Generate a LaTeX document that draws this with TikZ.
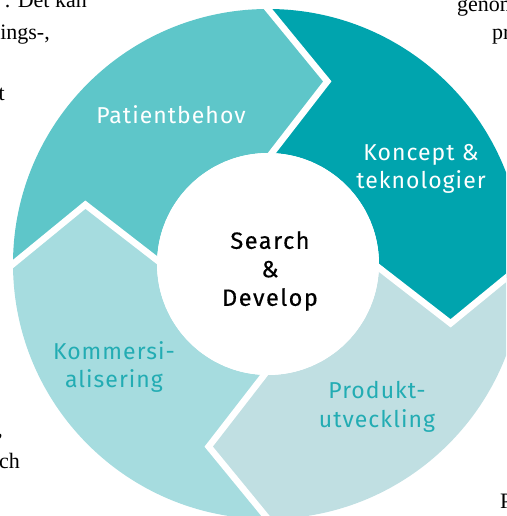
\documentclass[tikz,border=0pt]{standalone}
\usepackage{fontspec}
\setmainfont{Liberation Serif}
\newfontfamily\dinfont[LetterSpace=4.5]{Fira Sans}
\newfontfamily\dinfontc[LetterSpace=6.5, FakeBold=0.4]{Fira Sans}
\usetikzlibrary{calc}

\definecolor{patientcol}{HTML}{5EC6C9}
\definecolor{konceptcol}{HTML}{00A4AE}
\definecolor{produktcol}{HTML}{C0DFE2}
\definecolor{kommersicol}{HTML}{A6DCDF}
\definecolor{labelteal}{HTML}{22ACB3}

\tikzset{
	segment label/.style={font=\dinfont\fontsize{23}{28.5}\selectfont, align=center, inner sep=0pt},
	center label/.style={font=\dinfontc\fontsize{23.5}{28.5}\selectfont, align=center, inner sep=0pt},
	bg text/.style={font=\fontsize{22}{31}\selectfont, inner sep=0pt},
}

\begin{document}
\begin{tikzpicture}[x=1pt, y=1pt]
	% draw frame
	\path[use as bounding box, clip] (-268,-252) rectangle (238,264);

	% draw ring segments
	\def\Rout{255}
	\def\Rin{111}
	\def\Rtip{192}
	\foreach \a/\col in {180/patientcol, 90/konceptcol, 0/produktcol, -90/kommersicol} {
		\fill[\col] ({\a}:\Rout) arc[start angle=\a, end angle=\a-90, radius=\Rout]
			-- ({\a-108}:\Rtip) -- ({\a-90}:\Rin)
			arc[start angle=\a-90, end angle=\a, radius=\Rin]
			-- ({\a-18}:\Rtip) -- cycle;
	}

	% draw white gaps between the segments
	\foreach \a in {0,90,180,270} {
		\draw[white, line width=6.5pt] ($({\a-18}:\Rtip)!1.2!({\a}:\Rout)$)
			-- ({\a-18}:\Rtip) -- ({\a}:{\Rin-5});
	}

	% draw center disc
	\fill[white] (0,0) circle[radius=\Rin];

	% draw labels
	\node[center label] (center) at (2,-7) {Search\\\&\\Develop};
	\node[segment label, white, anchor=base] (patient) at (-97,140) {Patientbehov};
	\node[segment label, white] (koncept) at (153,95) {Koncept \&\\teknologier};
	\node[segment label, labelteal] (produkt) at (109,-143) {Produkt-\\utveckling};
	\node[segment label, labelteal] (kommersi) at (-154,-103) {Kommersi-\\alisering};

	% draw surrounding body text
	\node[bg text, anchor=base east] (txta) at (-181,256) {. Det kan};
	\node[bg text, anchor=base east] (txtb) at (-218,224) {ings-,};
	\node[bg text, anchor=base east] (txtc) at (-263,163) {t};
	\node[bg text, anchor=base west] (txtd) at (189,252) {genom};
	\node[bg text, anchor=base west] (txte) at (224,224) {pr};
	\node[bg text, anchor=base east] (txtf) at (-265,-172) {,};
	\node[bg text, anchor=base east] (txtg) at (-248,-204) {ch};
	\node[bg text, anchor=base west] (txth) at (232,-244) {P};
	\node[bg text, anchor=base west] (txti) at (199,-267) {i};
\end{tikzpicture}
\end{document}
